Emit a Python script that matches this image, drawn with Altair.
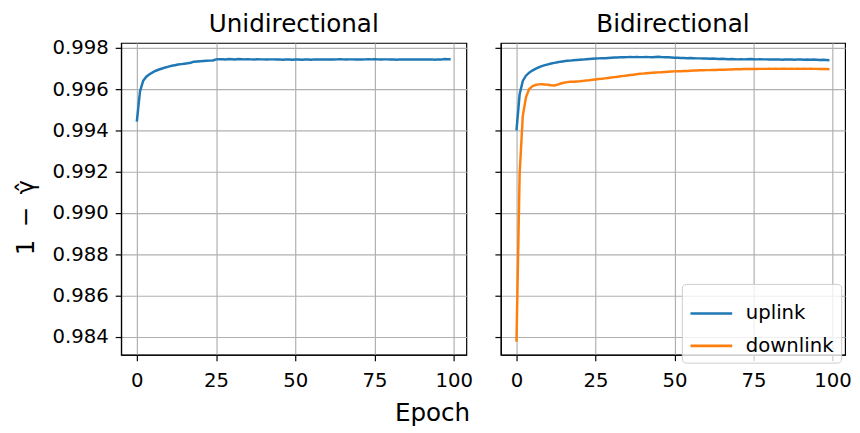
import altair as alt
import pandas as pd

epochs = list(range(100))

uni = [0.99443, 0.99589, 0.99640, 0.99660, 0.99672, 0.99681, 0.99689, 0.99695, 0.99700, 0.99705,
       0.99709, 0.99713, 0.99716, 0.99719, 0.99721, 0.99723, 0.99725, 0.99728, 0.99733, 0.99734,
       0.99735, 0.99736, 0.99737, 0.99738, 0.99739, 0.99744, 0.99745, 0.99745, 0.99744, 0.99746,
       0.99745, 0.99744, 0.99746, 0.99745, 0.99744, 0.99745, 0.99744, 0.99743, 0.99745, 0.99744,
       0.99744, 0.99743, 0.99744, 0.99744, 0.99743, 0.99744, 0.99742, 0.99743, 0.99743, 0.99742,
       0.99743, 0.99743, 0.99742, 0.99743, 0.99743, 0.99742, 0.99744, 0.99743, 0.99743, 0.99744,
       0.99743, 0.99744, 0.99743, 0.99744, 0.99745, 0.99744, 0.99743, 0.99744, 0.99744, 0.99743,
       0.99744, 0.99743, 0.99744, 0.99745, 0.99744, 0.99745, 0.99744, 0.99743, 0.99744, 0.99744,
       0.99743, 0.99744, 0.99742, 0.99744, 0.99743, 0.99744, 0.99743, 0.99744, 0.99743, 0.99744,
       0.99743, 0.99744, 0.99743, 0.99744, 0.99742, 0.99744, 0.99743, 0.99746, 0.99745, 0.99745]

bi_up = [0.99400, 0.99575, 0.99640, 0.99665, 0.99680, 0.99690, 0.99698, 0.99705, 0.99711, 0.99716,
         0.99720, 0.99724, 0.99727, 0.99730, 0.99733, 0.99735, 0.99737, 0.99738, 0.99740, 0.99741,
         0.99742, 0.99743, 0.99745, 0.99746, 0.99747, 0.99748, 0.99749, 0.99750, 0.99750, 0.99751,
         0.99752, 0.99753, 0.99753, 0.99755, 0.99754, 0.99755, 0.99756, 0.99755, 0.99756, 0.99755,
         0.99755, 0.99756, 0.99755, 0.99754, 0.99756, 0.99757, 0.99755, 0.99754, 0.99754, 0.99753,
         0.99752, 0.99752, 0.99751, 0.99751, 0.99750, 0.99751, 0.99750, 0.99749, 0.99749, 0.99748,
         0.99748, 0.99747, 0.99748, 0.99747, 0.99746, 0.99747, 0.99746, 0.99745, 0.99746, 0.99745,
         0.99744, 0.99745, 0.99744, 0.99745, 0.99746, 0.99745, 0.99744, 0.99745, 0.99744, 0.99744,
         0.99743, 0.99744, 0.99743, 0.99744, 0.99742, 0.99743, 0.99744, 0.99743, 0.99742, 0.99744,
         0.99743, 0.99742, 0.99743, 0.99742, 0.99743, 0.99742, 0.99741, 0.99742, 0.99741, 0.99740]

bi_down = [0.98376, 0.99190, 0.99470, 0.99560, 0.99600, 0.99614, 0.99620, 0.99623, 0.99624, 0.99622,
           0.99621, 0.99619, 0.99618, 0.99622, 0.99627, 0.99631, 0.99634, 0.99636, 0.99636, 0.99637,
           0.99638, 0.99640, 0.99642, 0.99643, 0.99645, 0.99647, 0.99649, 0.99650, 0.99652, 0.99654,
           0.99656, 0.99658, 0.99660, 0.99662, 0.99664, 0.99666, 0.99668, 0.99670, 0.99672, 0.99674,
           0.99675, 0.99677, 0.99678, 0.99679, 0.99680, 0.99681, 0.99682, 0.99683, 0.99684, 0.99685,
           0.99686, 0.99687, 0.99687, 0.99688, 0.99688, 0.99689, 0.99690, 0.99690, 0.99691, 0.99691,
           0.99692, 0.99692, 0.99693, 0.99693, 0.99694, 0.99694, 0.99694, 0.99695, 0.99695, 0.99696,
           0.99696, 0.99696, 0.99697, 0.99697, 0.99697, 0.99698, 0.99697, 0.99698, 0.99698, 0.99698,
           0.99699, 0.99698, 0.99699, 0.99698, 0.99699, 0.99699, 0.99698, 0.99699, 0.99698, 0.99699,
           0.99698, 0.99699, 0.99698, 0.99699, 0.99698, 0.99698, 0.99697, 0.99698, 0.99697, 0.99696]

series_names = ["uplink", "downlink"]
series_colors = ["#1f77b4", "#ff7f0e"]
y_ticks = [0.984, 0.986, 0.988, 0.990, 0.992, 0.994, 0.996, 0.998]
x_ticks = [0, 25, 50, 75, 100]

left_df = pd.DataFrame({"epoch": epochs, "value": uni})
right_df = pd.DataFrame({
    "epoch": epochs + epochs,
    "value": bi_up + bi_down,
    "series": [series_names[0]] * len(bi_up) + [series_names[1]] * len(bi_down),
})

FONT = "DejaVu Sans"
y_scale = alt.Scale(domain=[0.98313, 0.998238], nice=False, zero=False)
x_scale = alt.Scale(domain=[-4.95, 103.95], nice=False, zero=False)

def panel_title(t, off):
    return alt.TitleParams(t, fontSize=25, fontWeight="normal", anchor="middle",
                           color="black", font=FONT, offset=off)

x_enc = alt.X("epoch:Q", scale=x_scale,
              axis=alt.Axis(values=x_ticks, format="d", title=None, labelPadding=10))

left = alt.Chart(left_df, title=panel_title("Unidirectional", 1)).mark_line(
    color=series_colors[0], strokeWidth=2.5
).encode(
    x=x_enc,
    y=alt.Y("value:Q", scale=y_scale,
            axis=alt.Axis(values=y_ticks, format=".3f", title="1\u2002\u2212\u2002\u03b3\u0302",
                          titlePadding=14, titleY=177, labelPadding=7)),
).properties(width=351, height=317)

right = alt.Chart(right_df, title=panel_title("Bidirectional", 6)).mark_line(strokeWidth=2.5).encode(
    x=x_enc,
    y=alt.Y("value:Q", scale=y_scale,
            axis=alt.Axis(values=y_ticks, labels=False, title=None)),
    color=alt.Color("series:N",
                    scale=alt.Scale(domain=series_names, range=series_colors),
                    legend=alt.Legend(title=None, orient="none", legendX=570, legendY=245,
                                      symbolType="stroke", symbolSize=1800,
                                      symbolStrokeWidth=2.6, labelFontSize=20,
                                      labelFont=FONT, labelColor="black", labelOffset=12,
                                      fillColor="rgba(255,255,255,0.8)",
                                      strokeColor="#cccccc", cornerRadius=4,
                                      padding=7, rowPadding=-5)),
).properties(width=350, height=317)

chart = alt.hconcat(
    left, right, spacing=20,
    title=alt.TitleParams("Epoch", orient="bottom", anchor="middle", fontSize=25,
                          fontWeight="normal", color="black", font=FONT, offset=11),
).properties(
    padding={"left": 5, "top": 0, "right": 0, "bottom": 0}
).configure(font=FONT).configure_axis(
    domainColor="black", domainWidth=1.2, tickColor="black", tickWidth=1.2, tickSize=6,
    labelFontSize=20, labelColor="black", labelFont=FONT,
    gridColor="#b0b0b0", gridWidth=1.2,
    titleFontSize=25, titleFontWeight="normal", titleColor="black", titleFont=FONT,
).configure_view(stroke="black", strokeWidth=1.2)

chart.save("out.html", embed_options={"renderer": "svg", "actions": False})
